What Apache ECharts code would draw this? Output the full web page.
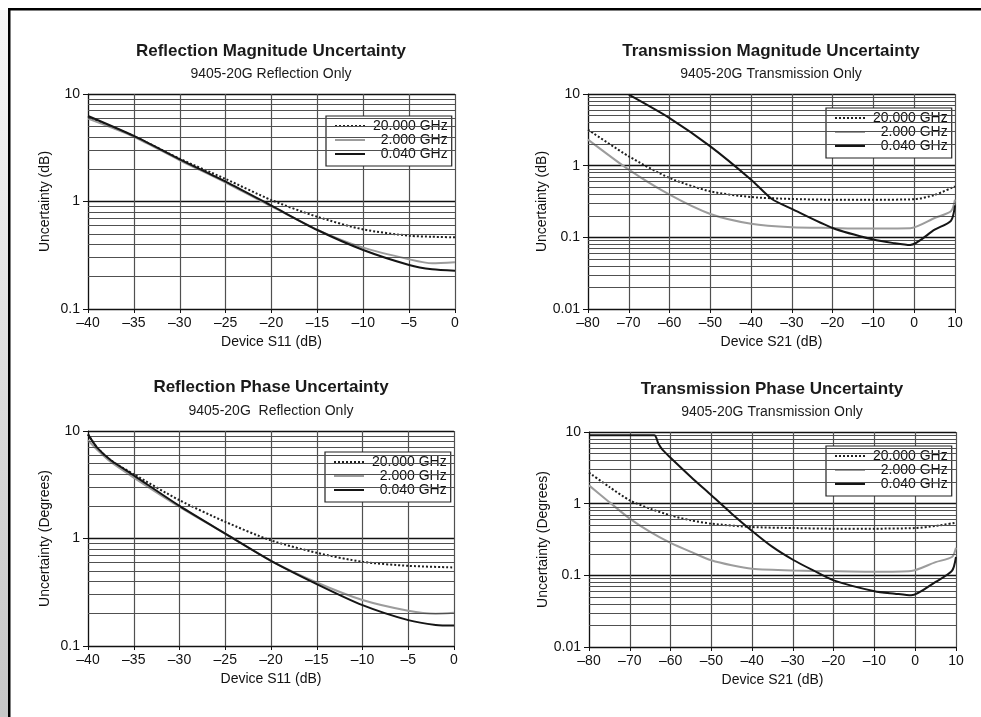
<!DOCTYPE html>
<html><head><meta charset="utf-8">
<script src="https://cdn.jsdelivr.net/npm/echarts@6/dist/echarts.min.js"></script>
<style>html,body{margin:0;padding:0;background:#fff}#c{width:981px;height:717px}</style>
</head><body><div id="c"></div>
<script>
// ---- data ----
const seriesNames = ['20.000 GHz', '2.000 GHz', '0.040 GHz'];
const legendLabels = {'20.000 GHz': '20.000 GHz', '2.000 GHz': '\u20072.000 GHz', '0.040 GHz': '\u20070.040 GHz'};

// Reflection Magnitude Uncertainty
const rmX20 = [-40, -35, -30, -25, -20, -15, -10, -5, -2.5, 0];
const rmY20 = [6.1, 4.05, 2.5, 1.62, 1.03, 0.72, 0.55, 0.48, 0.47, 0.464];
const rmX2 = [-40, -35, -30, -25, -20, -15, -10, -5, -2.5, 0];
const rmY2 = [5.9, 4.0, 2.42, 1.5, 0.9, 0.545, 0.372, 0.29, 0.266, 0.272];
const rmX004 = [-40, -35, -30, -25, -20, -15, -10, -5, -2.5, 0];
const rmY004 = [6.24, 4.07, 2.47, 1.53, 0.914, 0.543, 0.354, 0.257, 0.234, 0.227];

// Transmission Magnitude Uncertainty
const tmX20 = [-80, -70, -60, -50, -40, -30, -20, -10, 0, 5, 10];
const tmY20 = [3.18, 1.35, 0.673, 0.438, 0.365, 0.343, 0.335, 0.335, 0.34, 0.39, 0.515];
const tmX2 = [-80, -70, -60, -50, -40, -30, -20, -13, -1, 5, 9, 10];
const tmY2 = [2.31, 0.88, 0.394, 0.212, 0.155, 0.138, 0.135, 0.133, 0.134, 0.186, 0.231, 0.336];
const tmX004 = [-70, -60, -50, -40, -35, -30, -20, -10, -5, -1, 5, 9, 10];
const tmY004 = [9.8, 4.62, 1.86, 0.638, 0.346, 0.249, 0.135, 0.093, 0.083, 0.078, 0.128, 0.17, 0.28];

// Reflection Phase Uncertainty
const rpX20 = [-40, -39, -37.5, -35, -30, -25, -20, -15, -10, -5, 0];
const rpY20 = [9.3, 7.0, 5.34, 3.96, 2.27, 1.43, 0.96, 0.736, 0.607, 0.557, 0.538];
const rpX2 = [-40, -39, -37.5, -35, -30, -25, -20, -15, -10, -5, -2, 0];
const rpY2 = [8.2, 6.7, 5.15, 3.69, 1.97, 1.11, 0.62, 0.39, 0.268, 0.213, 0.2, 0.204];
const rpX004 = [-40, -39, -37.5, -35, -30, -25, -20, -15, -10, -5, -2, 0];
const rpY004 = [9.3, 7.0, 5.34, 3.87, 2.01, 1.11, 0.62, 0.377, 0.24, 0.174, 0.157, 0.155];

// Transmission Phase Uncertainty
const tpX20 = [-80, -75, -70, -65, -60, -55, -50, -40, -30, -20, -10, 0, 5, 10];
const tpY20 = [2.71, 1.71, 1.11, 0.851, 0.687, 0.585, 0.526, 0.472, 0.457, 0.448, 0.448, 0.457, 0.488, 0.543];
const tpX2 = [-80, -75, -70, -65, -60, -55, -50, -45, -40, -30, -20, -10, -1, 5, 9, 10];
const tpY2 = [1.8, 1.05, 0.618, 0.403, 0.283, 0.212, 0.162, 0.138, 0.124, 0.117, 0.114, 0.112, 0.115, 0.153, 0.18, 0.243];
const tpX004 = [-80, -64, -63, -62, -60, -55, -50, -45, -40, -35, -30, -25, -20, -10, -5, -1, 5, 9, 10];
const tpY004 = [9, 9, 6.9, 5.67, 4.38, 2.36, 1.31, 0.725, 0.416, 0.249, 0.165, 0.117, 0.085, 0.060, 0.0555, 0.0526, 0.081, 0.115, 0.18];

const panelTitles = ['Reflection Magnitude Uncertainty', 'Transmission Magnitude Uncertainty', 'Reflection Phase Uncertainty', 'Transmission Phase Uncertainty'];
const panelSubtitles = ['9405-20G Reflection Only', '9405-20G Transmission Only', '9405-20G  Reflection Only', '9405-20G Transmission Only'];
const xAxisNames = ['Device S11 (dB)', 'Device S21 (dB)', 'Device S11 (dB)', 'Device S21 (dB)'];
const yAxisNames = ['Uncertainty (dB)', 'Uncertainty (dB)', 'Uncertainty (Degrees)', 'Uncertainty (Degrees)'];
const xRanges = [[-40, 0, 5], [-80, 10, 10], [-40, 0, 5], [-80, 10, 10]];
const yRanges = [[0.1, 10], [0.01, 10], [0.1, 10], [0.01, 10]];

const panelData = [
  [[rmX20, rmY20], [rmX2, rmY2], [rmX004, rmY004]],
  [[tmX20, tmY20], [tmX2, tmY2], [tmX004, tmY004]],
  [[rpX20, rpY20], [rpX2, rpY2], [rpX004, rpY004]],
  [[tpX20, tpY20], [tpX2, tpY2], [tpX004, tpY004]]
];

// ---- layout / style ----
const FONT = '"Liberation Sans", Arial, Helvetica, sans-serif';
const TXT = '#111';
const layout = [
  {grid: {left: 88, top: 94, width: 367, height: 215}, title: {x: 271, y: 42.5, gap: 7.5}, legend: {left: 326, top: 116}, yGap: 36},
  {grid: {left: 588, top: 94, width: 367, height: 215}, title: {x: 771, y: 42.5, gap: 7.5}, legend: {left: 826, top: 108}, yGap: 38},
  {grid: {left: 88, top: 431, width: 366, height: 215}, title: {x: 271, y: 378.5, gap: 8.5}, legend: {left: 325, top: 452}, yGap: 36},
  {grid: {left: 589, top: 432, width: 367, height: 215}, title: {x: 772, y: 380.5, gap: 7.5}, legend: {left: 826, top: 446}, yGap: 37}
];
const lineStyles = [
  {color: '#1e1e1e', width: 2, type: 'dotted'},
  {color: '#9c9c9c', width: 2, type: 'solid'},
  {color: '#151515', width: 2, type: 'solid'}
];

function minorValues(min, max) {
  const out = [];
  for (let d = min; d < max * 0.999; d *= 10) {
    for (let k = 2; k <= 9; k++) out.push(+(k * d).toPrecision(3));
  }
  return out;
}
function fmtX(v) { return v < 0 ? '\u2013' + Math.abs(v) : String(v); }

const option = {
  animation: false,
  backgroundColor: '#fff',
  textStyle: {fontFamily: FONT},
  title: [], grid: [], xAxis: [], yAxis: [], legend: [], series: [],
  graphic: [
    {type: 'rect', silent: true, shape: {x: 0, y: 10, width: 8, height: 707},
     style: {fill: {type: 'linear', x: 0, y: 0, x2: 0, y2: 1, colorStops: [{offset: 0, color: '#f6f6f6'}, {offset: 1, color: '#c6c6c6'}]}}},
    {type: 'rect', silent: true, shape: {x: 8, y: 8, width: 973, height: 2.5}, style: {fill: '#000'}},
    {type: 'rect', silent: true, shape: {x: 8, y: 8, width: 2.5, height: 709}, style: {fill: '#000'}}
  ]
};

for (let i = 0; i < 4; i++) {
  const L = layout[i];
  option.title.push({
    text: panelTitles[i], subtext: panelSubtitles[i],
    left: L.title.x, top: L.title.y, textAlign: 'center', padding: 0, itemGap: L.title.gap,
    textStyle: {fontFamily: FONT, fontSize: 17, fontWeight: 'bold', color: '#1a1a1a'},
    subtextStyle: {fontFamily: FONT, fontSize: 14, color: '#1a1a1a'}
  });
  option.grid.push(Object.assign({show: false}, L.grid));
  option.xAxis.push({
    gridIndex: i, type: 'value', min: xRanges[i][0], max: xRanges[i][1], interval: xRanges[i][2],
    name: xAxisNames[i], nameLocation: 'middle', nameGap: 26,
    nameTextStyle: {fontFamily: FONT, fontSize: 14, color: TXT},
    axisLine: {show: true, onZero: false, lineStyle: {color: '#111', width: 1.2}},
    axisTick: {show: true, length: 4, lineStyle: {color: '#111'}},
    axisLabel: {fontFamily: FONT, fontSize: 14, color: TXT, margin: 7, formatter: fmtX},
    splitLine: {show: true, lineStyle: {color: '#505050', width: 1.2}}
  });
  option.yAxis.push({
    gridIndex: i, type: 'log', logBase: 10, min: yRanges[i][0], max: yRanges[i][1],
    name: yAxisNames[i], nameLocation: 'middle', nameGap: L.yGap,
    nameTextStyle: {fontFamily: FONT, fontSize: 14, color: TXT},
    axisLine: {show: true, onZero: false, lineStyle: {color: '#111', width: 1.2}},
    axisTick: {show: true, length: 5, lineStyle: {color: '#111'}},
    axisLabel: {fontFamily: FONT, fontSize: 14, color: TXT, margin: 8},
    splitLine: {show: true, lineStyle: {color: '#111', width: 1.3}}
  });
  option.legend.push({
    orient: 'vertical', left: L.legend.left, top: L.legend.top,
    data: seriesNames, selectedMode: false,
    itemWidth: 30, itemHeight: 14, itemGap: 0, padding: [3, 4, 5, 8],
    borderColor: '#222', borderWidth: 1.2, backgroundColor: '#fff', borderRadius: 0,
    itemStyle: {opacity: 0, color: 'rgba(0,0,0,0)', borderColor: 'rgba(0,0,0,0)', borderWidth: 0},
    lineStyle: {width: 2},
    textStyle: {fontFamily: FONT, fontSize: 14, color: TXT, padding: [0, 0, 0, 3]},
    formatter: n => legendLabels[n]
  });
  // minor log gridlines
  option.series.push({
    type: 'line', name: 'minor-grid-' + i, xAxisIndex: i, yAxisIndex: i, data: [], z: 1,
    silent: true, symbol: 'none',
    markLine: {
      silent: true, symbol: ['none', 'none'], label: {show: false},
      lineStyle: {type: 'solid', color: '#505050', width: 1.1},
      emphasis: {disabled: true},
      data: minorValues(yRanges[i][0], yRanges[i][1]).map(v => ({yAxis: v}))
    }
  });
  for (let s = 0; s < 3; s++) {
    const [xs, ys] = panelData[i][s];
    option.series.push({
      type: 'line', name: seriesNames[s], xAxisIndex: i, yAxisIndex: i, z: 3 + s,
      symbol: 'none', smooth: 0.25,
      lineStyle: lineStyles[s], itemStyle: {color: lineStyles[s].color},
      emphasis: {disabled: true},
      data: xs.map((x, k) => [x, ys[k]])
    });
  }
}

const chart = echarts.init(document.getElementById('c'), null, {renderer: 'canvas'});
chart.setOption(option);
</script>
</body></html>
